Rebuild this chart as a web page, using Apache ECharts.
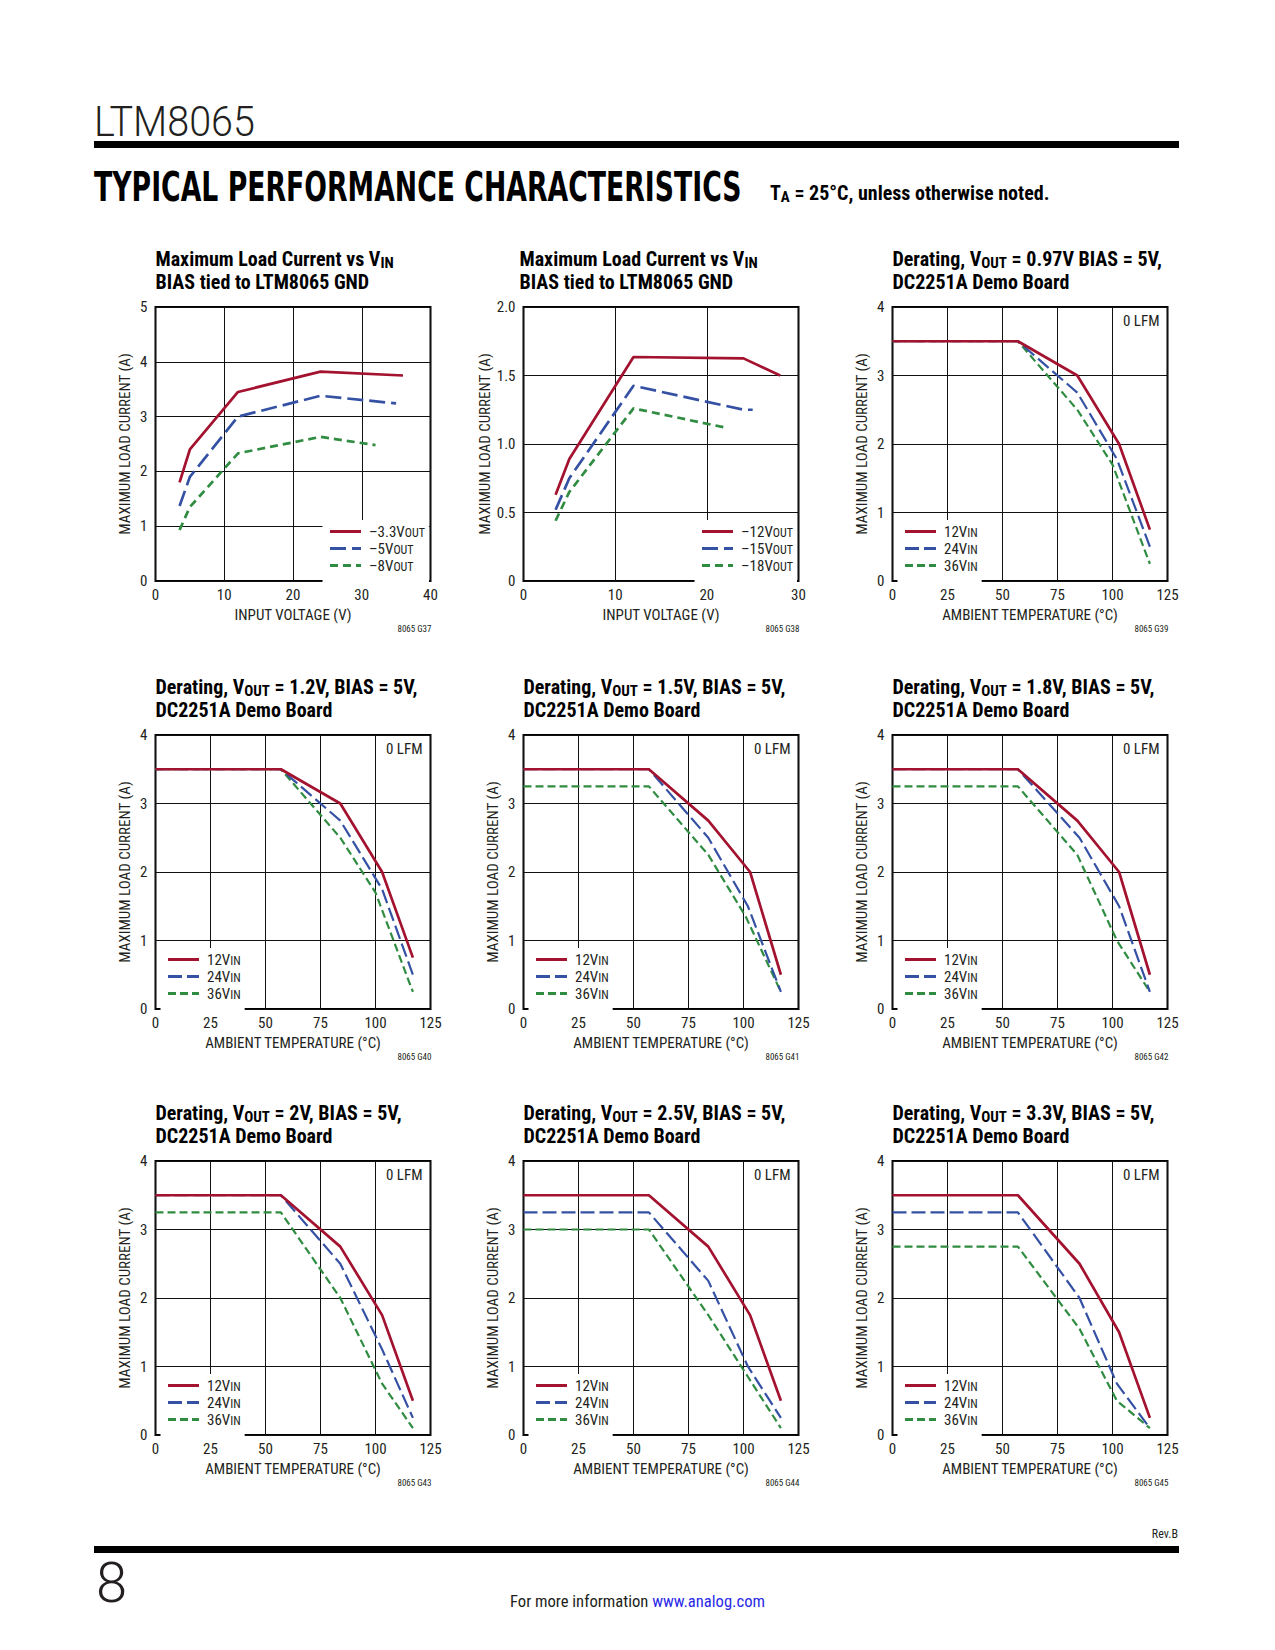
<!DOCTYPE html>
<html>
<head>
<meta charset="utf-8">
<title>LTM8065 Typical Performance Characteristics</title>
<script src="https://cdn.jsdelivr.net/npm/echarts@6/dist/echarts.min.js"></script>
<style>
  html, body { margin: 0; padding: 0; background: #fff; }
  #page { width: 1275px; height: 1650px; }
</style>
</head>
<body>
<div id="page"></div>
<script>
// tick labels
const vinTicks40 = ['0', '10', '20', '30', '40'];
const vinTicks30 = ['0', '10', '20', '30'];
const tempTicks = ['0', '25', '50', '75', '100', '125'];
const ampTicks5 = ['0', '1', '2', '3', '4', '5'];
const ampTicks2 = ['0', '0.5', '1.0', '1.5', '2.0'];
const ampTicks4 = ['0', '1', '2', '3', '4'];

// G37: max load current vs VIN (x = V, y = A)
const g37_3v3 = [[3.5, 1.8], [5, 2.4], [12, 3.45], [24, 3.82], [36, 3.75]];
const g37_5v = [[3.5, 1.37], [5, 1.9], [12, 3.0], [24, 3.38], [35, 3.24]];
const g37_8v = [[3.5, 0.93], [5, 1.35], [12, 2.33], [24, 2.63], [32, 2.48]];

// G38
const g38_12v = [[3.5, 0.63], [5, 0.89], [12, 1.635], [24, 1.625], [28, 1.5]];
const g38_15v = [[3.5, 0.52], [5, 0.75], [12, 1.425], [24, 1.25], [25, 1.25]];
const g38_18v = [[3.5, 0.44], [5, 0.65], [12, 1.26], [22, 1.12]];

// derating curves (x = degC, y = A), 12VIN / 24VIN / 36VIN
const g39_12 = [[0, 3.5], [57, 3.5], [84, 3.0], [103, 2.0], [117, 0.75]];
const g39_24 = [[0, 3.5], [57, 3.5], [84, 2.75], [102, 1.78], [117, 0.5]];
const g39_36 = [[0, 3.5], [57, 3.5], [84, 2.5], [100, 1.7], [117, 0.25]];

const g40_12 = [[0, 3.5], [57, 3.5], [84, 3.0], [103, 2.0], [117, 0.75]];
const g40_24 = [[0, 3.5], [57, 3.5], [84, 2.75], [103, 1.75], [117, 0.5]];
const g40_36 = [[0, 3.5], [57, 3.5], [84, 2.5], [100, 1.7], [117, 0.25]];

const g41_12 = [[0, 3.5], [57, 3.5], [84, 2.75], [103, 2.0], [117, 0.5]];
const g41_24 = [[0, 3.5], [57, 3.5], [84, 2.5], [102, 1.5], [117, 0.25]];
const g41_36 = [[0, 3.25], [57, 3.25], [84, 2.25], [101, 1.35], [117, 0.25]];

const g42_12 = [[0, 3.5], [57, 3.5], [84, 2.75], [103, 2.0], [117, 0.5]];
const g42_24 = [[0, 3.5], [57, 3.5], [85, 2.5], [103, 1.5], [117, 0.25]];
const g42_36 = [[0, 3.25], [57, 3.25], [84, 2.25], [102, 1.0], [117, 0.25]];

const g43_12 = [[0, 3.5], [57, 3.5], [84, 2.75], [103, 1.75], [117, 0.5]];
const g43_24 = [[0, 3.5], [57, 3.5], [84, 2.5], [103, 1.25], [117, 0.25]];
const g43_36 = [[0, 3.25], [57, 3.25], [84, 2.0], [103, 0.75], [117, 0.1]];

const g44_12 = [[0, 3.5], [57, 3.5], [84, 2.75], [103, 1.75], [117, 0.5]];
const g44_24 = [[0, 3.25], [57, 3.25], [84, 2.25], [102, 1.0], [117, 0.25]];
const g44_36 = [[0, 3.0], [57, 3.0], [84, 1.75], [102, 0.85], [117, 0.1]];

const g45_12 = [[0, 3.5], [57, 3.5], [85, 2.5], [103, 1.5], [117, 0.25]];
const g45_24 = [[0, 3.25], [57, 3.25], [85, 2.0], [102, 0.75], [117, 0.1]];
const g45_36 = [[0, 2.75], [57, 2.75], [85, 1.55], [102, 0.5], [117, 0.1]];

const W = 1275;
const NARROW = '"Liberation Sans Narrow", "Roboto Condensed", "DejaVu Sans Condensed", sans-serif';
const INK = '#231f20';
const RED = '#a3122f';
const BLUE = '#3551a4';
const GREEN = '#2f8c40';

const colLeft = [155.5, 523.5, 892.5];
const rowTop = [307, 735, 1161];
const PW = 275, PH = 274;

const lineStyles = {
  vin: [
    { color: RED, width: 2.7, type: 'solid' },
    { color: BLUE, width: 2.7, type: [16, 6] },
    { color: GREEN, width: 2.7, type: [8, 5] }
  ],
  temp: [
    { color: RED, width: 2.7, type: 'solid' },
    { color: BLUE, width: 2.2, type: [14, 5] },
    { color: GREEN, width: 2.2, type: [8, 4] }
  ]
};

const vinLabels = (a, b, c) => [
  '{n|–' + a + 'V}{s|OUT}', '{n|–' + b + 'V}{s|OUT}', '{n|–' + c + 'V}{s|OUT}'
];
const tempLabels = ['{n|12V}{s|IN}', '{n|24V}{s|IN}', '{n|36V}{s|IN}'];
const derTitle = (v, sep) =>
  '{b|Derating, V}{s|OUT}{b| = ' + v + sep + ' BIAS = 5V,}\n{b|DC2251A Demo Board}';

const panels = [
  { code: '8065 G37', col: 0, row: 0, titleDx: 0, legDx: 173, set: 'vin',
    title: '{b|Maximum Load Current vs V}{s|IN}\n{b|BIAS tied to LTM8065 GND}',
    xName: 'INPUT VOLTAGE (V)', xTicks: vinTicks40, xStep: 10, yTicks: ampTicks5, yStep: 1, lfm: false,
    labels: vinLabels('3.3', '5', '8'), data: [g37_3v3, g37_5v, g37_8v] },
  { code: '8065 G38', col: 1, row: 0, titleDx: -4, legDx: 177, set: 'vin',
    title: '{b|Maximum Load Current vs V}{s|IN}\n{b|BIAS tied to LTM8065 GND}',
    xName: 'INPUT VOLTAGE (V)', xTicks: vinTicks30, xStep: 10, yTicks: ampTicks2, yStep: 0.5, lfm: false,
    labels: vinLabels('12', '15', '18'), data: [g38_12v, g38_15v, g38_18v] },
  { code: '8065 G39', col: 2, row: 0, titleDx: 0, legDx: 11, set: 'temp',
    title: derTitle('0.97V', ''), xName: 'AMBIENT TEMPERATURE (°C)', xTicks: tempTicks, xStep: 25,
    yTicks: ampTicks4, yStep: 1, lfm: true, labels: tempLabels, data: [g39_12, g39_24, g39_36] },
  { code: '8065 G40', col: 0, row: 1, titleDx: 0, legDx: 11, set: 'temp',
    title: derTitle('1.2V', ','), xName: 'AMBIENT TEMPERATURE (°C)', xTicks: tempTicks, xStep: 25,
    yTicks: ampTicks4, yStep: 1, lfm: true, labels: tempLabels, data: [g40_12, g40_24, g40_36] },
  { code: '8065 G41', col: 1, row: 1, titleDx: 0, legDx: 11, set: 'temp',
    title: derTitle('1.5V', ','), xName: 'AMBIENT TEMPERATURE (°C)', xTicks: tempTicks, xStep: 25,
    yTicks: ampTicks4, yStep: 1, lfm: true, labels: tempLabels, data: [g41_12, g41_24, g41_36] },
  { code: '8065 G42', col: 2, row: 1, titleDx: 0, legDx: 11, set: 'temp',
    title: derTitle('1.8V', ','), xName: 'AMBIENT TEMPERATURE (°C)', xTicks: tempTicks, xStep: 25,
    yTicks: ampTicks4, yStep: 1, lfm: true, labels: tempLabels, data: [g42_12, g42_24, g42_36] },
  { code: '8065 G43', col: 0, row: 2, titleDx: 0, legDx: 11, set: 'temp',
    title: derTitle('2V', ','), xName: 'AMBIENT TEMPERATURE (°C)', xTicks: tempTicks, xStep: 25,
    yTicks: ampTicks4, yStep: 1, lfm: true, labels: tempLabels, data: [g43_12, g43_24, g43_36] },
  { code: '8065 G44', col: 1, row: 2, titleDx: 0, legDx: 11, set: 'temp',
    title: derTitle('2.5V', ','), xName: 'AMBIENT TEMPERATURE (°C)', xTicks: tempTicks, xStep: 25,
    yTicks: ampTicks4, yStep: 1, lfm: true, labels: tempLabels, data: [g44_12, g44_24, g44_36] },
  { code: '8065 G45', col: 2, row: 2, titleDx: 0, legDx: 11, set: 'temp',
    title: derTitle('3.3V', ','), xName: 'AMBIENT TEMPERATURE (°C)', xTicks: tempTicks, xStep: 25,
    yTicks: ampTicks4, yStep: 1, lfm: true, labels: tempLabels, data: [g45_12, g45_24, g45_36] }
];

// horizontal squeeze so a heading fits its measured width in the reference
function fitX(text, font, width) {
  const ctx = document.createElement('canvas').getContext('2d');
  ctx.font = font;
  return width / ctx.measureText(text).width;
}

const option = {
  animation: false,
  backgroundColor: '#fff',
  tooltip: { show: false },
  title: [], legend: [], grid: [], xAxis: [], yAxis: [], series: [], graphic: []
};

panels.forEach((p, i) => {
  const left = colLeft[p.col];
  const top = rowTop[p.row];
  const styles = lineStyles[p.set];
  const names = p.labels.map((_, k) => p.code + '#' + k);

  option.grid.push({
    left: left, top: top, width: PW, height: PH,
    show: true, borderColor: '#000', borderWidth: 2
  });

  const xMax = (p.xTicks.length - 1) * p.xStep;
  const yMax = (p.yTicks.length - 1) * p.yStep;

  option.xAxis.push({
    type: 'value', gridIndex: i, min: 0, max: xMax, interval: p.xStep,
    name: p.xName, nameLocation: 'middle', nameGap: 26,
    nameTextStyle: { fontFamily: NARROW, fontSize: 15, color: INK },
    axisLine: { show: false }, axisTick: { show: false },
    axisLabel: {
      margin: 6, fontFamily: NARROW, fontSize: 15, color: INK,
      formatter: v => p.xTicks[Math.round(v / p.xStep)]
    },
    splitLine: { show: true, lineStyle: { color: '#111', width: 1 } }
  });

  option.yAxis.push({
    type: 'value', gridIndex: i, min: 0, max: yMax, interval: p.yStep,
    name: 'MAXIMUM LOAD CURRENT (A)', nameLocation: 'middle', nameGap: 23,
    nameTextStyle: { fontFamily: NARROW, fontSize: 15, color: INK },
    axisLine: { show: false }, axisTick: { show: false },
    axisLabel: {
      margin: 8, fontFamily: NARROW, fontSize: 15, color: INK,
      formatter: v => p.yTicks[Math.round(v / p.yStep)]
    },
    splitLine: { show: true, lineStyle: { color: '#111', width: 1 } }
  });

  // draw green, blue, then red so the solid curve sits on top
  for (let k = p.data.length - 1; k >= 0; k--) {
    option.series.push({
      type: 'line', name: names[k], xAxisIndex: i, yAxisIndex: i,
      data: p.data[k], symbol: 'none', silent: true,
      lineStyle: styles[k], itemStyle: { color: styles[k].color }
    });
  }

  option.title.push({
    text: p.title, left: left + p.titleDx, top: top - 60, padding: 0,
    textStyle: {
      rich: {
        b: { fontFamily: NARROW, fontWeight: 'bold', fontSize: 20, lineHeight: 23, color: '#000' },
        s: { fontFamily: NARROW, fontWeight: 'bold', fontSize: 15, lineHeight: 11,
             verticalAlign: 'bottom', color: '#000' }
      }
    }
  });

  option.title.push({
    text: p.code, right: W - (left + PW + 1), top: top + PH + 43, padding: 0,
    textStyle: { fontFamily: NARROW, fontWeight: 'normal', fontSize: 9, color: INK }
  });

  if (p.lfm) {
    option.title.push({
      text: '0 LFM', right: W - (left + PW - 8), top: top + 6, padding: 0,
      textStyle: { fontFamily: NARROW, fontWeight: 'normal', fontSize: 15, color: INK }
    });
  }

  const labelMap = {};
  names.forEach((n, k) => { labelMap[n] = p.labels[k]; });
  option.legend.push({
    orient: 'vertical', left: left + p.legDx - 6, top: top + PH - 61,
    padding: [4, 4, 9, 6], backgroundColor: '#fff',
    itemWidth: 31, itemHeight: 12, itemGap: 2, selectedMode: false,
    itemStyle: { opacity: 0 },
    lineStyle: { width: 3 },
    data: names,
    formatter: n => labelMap[n],
    textStyle: {
      rich: {
        n: { fontFamily: NARROW, fontSize: 15, lineHeight: 14, color: INK, padding: [0, 0, 0, 3] },
        s: { fontFamily: NARROW, fontSize: 12, lineHeight: 4, verticalAlign: 'bottom', color: INK }
      }
    }
  });
});

// page furniture
const headFont = 'bold 40px "DejaVu Sans"';
const headText = 'TYPICAL PERFORMANCE CHARACTERISTICS';
const partFont = '300 43px Roboto';
option.graphic = [
  { type: 'text', x: 94, y: 121, scaleX: fitX('LTM8065', partFont, 161),
    style: { text: 'LTM8065', font: partFont, fill: INK, align: 'left', verticalAlign: 'middle' } },
  { type: 'rect', shape: { x: 94, y: 141, width: 1085, height: 7 }, style: { fill: '#000' } },
  { type: 'text', x: 94, y: 187, scaleX: fitX(headText, headFont, 648),
    style: { text: headText, font: headFont, fill: '#000', align: 'left', verticalAlign: 'middle' } },
  { type: 'text', x: 770, y: 193,
    style: {
      text: '{t|T}{a|A}{t| = 25°C, unless otherwise noted.}', align: 'left', verticalAlign: 'middle',
      rich: {
        t: { fontFamily: NARROW, fontWeight: 'bold', fontSize: 20, lineHeight: 22, fill: '#000' },
        a: { fontFamily: NARROW, fontWeight: 'bold', fontSize: 15, lineHeight: 10,
             verticalAlign: 'bottom', fill: '#000' }
      }
    } },
  { type: 'text', x: 1178, y: 1534,
    style: { text: 'Rev.B', font: '12px ' + NARROW, fill: INK, align: 'right', verticalAlign: 'middle' } },
  { type: 'rect', shape: { x: 94, y: 1546, width: 1085, height: 7 }, style: { fill: '#000' } },
  { type: 'text', x: 96, y: 1583,
    style: { text: '8', font: '300 56px Roboto', fill: INK, align: 'left', verticalAlign: 'middle' } },
  { type: 'text', x: 510, y: 1601,
    style: {
      text: '{a|For more information }{b|www.analog.com}', align: 'left', verticalAlign: 'middle',
      rich: {
        a: { fontFamily: NARROW, fontSize: 16.6, fill: INK },
        b: { fontFamily: NARROW, fontSize: 16.6, fill: '#2a2ae8' }
      }
    } }
];

const chart = echarts.init(document.getElementById('page'), null, { renderer: 'svg' });
chart.setOption(option);
</script>
</body>
</html>
